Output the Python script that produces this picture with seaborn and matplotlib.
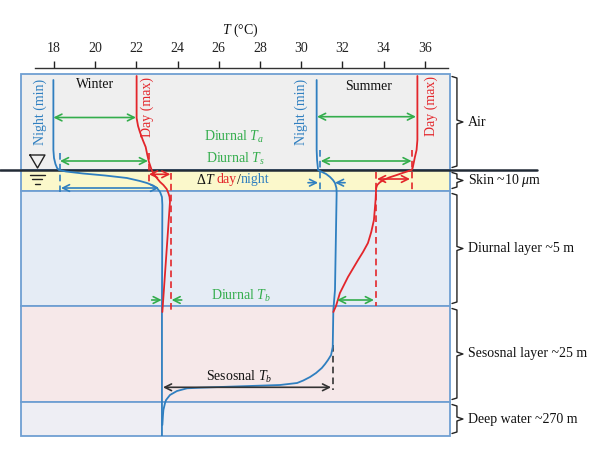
import numpy as np
import pandas as pd
import matplotlib
matplotlib.use('Agg')
import matplotlib.pyplot as plt
import seaborn as sns

# ---- data (temperature in degC, depth in drawing units, 0 = top of air box) ----
temp_ticks = [18, 20, 22, 24, 26, 28, 30, 32, 34, 36]

layer_names = ['Air', 'Skin ~10 $\\mu$m', 'Diurnal layer ~5 m',
               'Sesosnal layer ~25 m', 'Deep water ~270 m']
layer_edges = [0, 96, 117, 232, 328, 362]
layer_colors = ['#efefef', '#fbf8cb', '#e5ecf5', '#f6e8e9', '#eeeef4']

winter_night_T = [17.97, 17.97, 18.0, 18.07, 18.15, 18.24, 18.58, 19.41, 20.48, 21.54,
                  22.17, 22.51, 22.81, 23.0, 23.15, 23.24, 23.26, 23.24, 23.24]
winter_night_z = [6, 76, 84, 90, 94, 96, 97.5, 99.5, 101.5, 104,
                  107, 109, 111.5, 114, 118, 123, 131, 232, 362]

winter_day_T = [22.01, 22.01, 22.08, 22.17, 22.31, 22.45, 22.53, 22.61, 22.74, 22.85,
                22.99, 23.15, 23.31, 23.47, 23.55, 23.61, 23.63, 23.26]
winter_day_z = [2, 44, 52, 58, 66, 73, 81, 88, 96, 100,
                104, 108, 111, 115, 119, 123, 128, 238]

summer_night_T = [30.75, 30.75, 30.77, 30.82, 31.01, 31.21, 31.40, 31.54, 31.64, 31.71,
                  31.72, 31.64, 31.56, 31.53, 31.45, 31.30, 31.16, 31.0, 30.72, 30.43,
                  30.10, 29.80, 28.97, 27.51, 26.06, 25.09, 24.46, 23.97, 23.63, 23.44,
                  23.39, 23.31, 23.29, 23.26]
summer_night_z = [6, 76, 86, 96, 98, 100, 103, 106, 109, 114,
                  119, 216, 236, 273, 281, 286, 290, 294, 299, 303,
                  306.5, 309, 311, 312, 313, 313.7, 314.3, 317, 321, 326,
                  329, 336, 341, 351]

summer_day_T = [35.64, 35.64, 35.60, 35.52, 35.45, 35.41, 35.36, 34.99, 34.64, 34.27,
                33.99, 33.81, 33.69, 33.64, 33.63, 33.61, 33.53, 33.40, 33.24, 33.0,
                32.76, 32.27, 31.88, 31.69, 31.56]
summer_day_z = [2, 66, 76, 83, 90, 94, 96, 98.5, 101, 103.5,
                106, 108.5, 111, 114, 117.7, 126, 146, 158, 169, 178,
                186, 203, 219, 232, 238]

# reference (dashed) lines: T, z_top, z_bottom, colour key
ref_T = [18.29, 22.62, 23.66, 30.91, 35.39, 33.62, 31.53]
ref_z0 = [79, 79, 99, 76, 76, 98, 271]
ref_z1 = [118, 111, 238, 118, 116, 232, 316]
ref_c = ['blue', 'red', 'red', 'blue', 'red', 'red', 'black']

# arrows: T_start, T_end, z, style, colour key
arr_T0 = [17.97, 18.29, 22.61, 18.34, 22.74, 24.20, 30.77, 30.95, 30.33, 32.13, 33.68, 31.74, 23.29]
arr_T1 = [21.98, 22.56, 23.65, 23.10, 23.23, 23.71, 35.57, 35.36, 30.82, 31.64, 35.28, 33.53, 31.45]
arr_z = [43.5, 87, 100.3, 114, 226, 226, 42.7, 87, 108.7, 108.7, 105, 226, 313.3]
arr_style = ['<->', '<->', '<->', '<->', '->', '->', '<->', '<->', '->', '->', '<->', '<->', '<->']
arr_c = ['green', 'green', 'red', 'blue', 'green', 'green', 'green', 'green',
         'blue', 'blue', 'red', 'green', 'black']

colors = {'blue': '#2f7fc0', 'red': '#e3262b', 'green': '#33ad4c', 'black': '#333333'}

# ---- style ----
sns.set_theme(style='white')
plt.rcParams['font.family'] = ['Liberation Serif', 'DejaVu Serif']
plt.rcParams['mathtext.fontset'] = 'custom'
plt.rcParams['mathtext.rm'] = 'Liberation Serif'
plt.rcParams['mathtext.it'] = 'Liberation Serif:italic'
fs = 10

fig = plt.figure(figsize=(6, 4.57), dpi=100)
ax = fig.add_axes([21 / 600, 1 - 436 / 457, 429 / 600, 362 / 457])
ax.set_xlim(16.398, 37.223)
ax.set_ylim(362, 0)

# layers
for i, name in enumerate(layer_names):
    top, bot = layer_edges[i], layer_edges[i + 1]
    ax.axhspan(top, bot, facecolor=layer_colors[i], edgecolor='#6f9fd2', lw=1.3,
               clip_on=False, zorder=0)
    # right brace
    b0, b1 = top + 2.5, bot - 2.5
    mid = (b0 + b1) / 2
    ax.plot([37.32, 37.56, 37.56, 37.85, 37.56, 37.56, 37.32],
            [b0, b0 + 1.5, mid - 2, mid, mid + 2, b1 - 1.5, b1],
            color='#222222', lw=1.0, clip_on=False)
    ax.text(38.08, mid, name, ha='left', va='center', fontsize=fs, color='#111111',
            clip_on=False)

# sea surface line
ax.plot([15.38, 41.45], [layer_edges[1], layer_edges[1]], color='#222b36', lw=1.8,
        clip_on=False, zorder=3)

# water symbol
ax.plot([16.83, 17.56, 17.20, 16.83], [81, 81, 94, 81], color='#222222', lw=1.0,
        clip_on=False)
for x0, x1, z in [(16.83, 17.56, 101), (16.95, 17.44, 105.3), (17.10, 17.30, 110)]:
    ax.plot([x0, x1], [z, z], color='#222222', lw=1.0)

# profiles
profiles = [(winter_night_T, winter_night_z, 'blue'),
            (winter_day_T, winter_day_z, 'red'),
            (summer_night_T, summer_night_z, 'blue'),
            (summer_day_T, summer_day_z, 'red')]
for T, z, c in profiles:
    sns.lineplot(x=T, y=z, sort=False, estimator=None, color=colors[c], lw=1.3, ax=ax,
                 zorder=4)

# reference dashed lines
for T, z0, z1, c in zip(ref_T, ref_z0, ref_z1, ref_c):
    ax.plot([T, T], [z0, z1], color=colors[c], lw=1.2, ls=(0, (4, 2.5)), zorder=3)

# arrows
for T0, T1, z, st, c in zip(arr_T0, arr_T1, arr_z, arr_style, arr_c):
    ax.annotate('', xy=(T1, z), xytext=(T0, z),
                arrowprops=dict(arrowstyle=st, color=colors[c], lw=1.2,
                                shrinkA=0, shrinkB=0, mutation_scale=12), zorder=5)

# labels
ax.text(19.99, 11, 'Winter', ha='center', va='center', fontsize=fs, color='#111111')
ax.text(33.29, 13, 'Summer', ha='center', va='center', fontsize=fs, color='#111111')
for x, z, txt, c in [(17.32, 38, 'Night (min)', 'blue'), (22.51, 33, 'Day (max)', 'red'),
                     (30.0, 38, 'Night (min)', 'blue'), (36.33, 32, 'Day (max)', 'red')]:
    ax.text(x, z, txt, rotation=90, ha='center', va='center', fontsize=fs, color=colors[c])

ax.text(26.74, 63, 'Diurnal $T_a$', ha='center', va='center', fontsize=fs, color=colors['green'])
ax.text(26.79, 85, 'Diurnal $T_s$', ha='center', va='center', fontsize=fs, color=colors['green'])
ax.text(27.08, 222, 'Diurnal $T_b$', ha='center', va='center', fontsize=fs, color=colors['green'])
ax.text(26.98, 303, 'Sesosnal $T_b$', ha='center', va='center', fontsize=fs, color='#111111')

t = ax.text(24.93, 106, '\u0394', ha='left', va='center', fontsize=fs, color='#111111')
for s, c, st in [('T ', '#111111', 'italic'), ('day', colors['red'], 'normal'),
                 ('/', '#111111', 'normal'), ('night', colors['blue'], 'normal')]:
    t = ax.annotate(s, xy=(1, 0), xycoords=t, ha='left', va='bottom', fontsize=fs,
                    color=c, fontstyle=st)

# top temperature axis
for side in ['left', 'right', 'bottom']:
    ax.spines[side].set_visible(False)
ax.spines['top'].set_position(('outward', 4.5))
ax.spines['top'].set_bounds(17.08, 37.11)
ax.spines['top'].set_color('#333333')
ax.spines['top'].set_linewidth(1.0)
ax.xaxis.tick_top()
ax.set_xticks(temp_ticks)
ax.set_yticks([])
ax.tick_params(axis='x', direction='out', length=5, width=1, pad=4.5, labelsize=fs,
               colors='#222222', top=True, bottom=False)
ax.set_xlabel('')
ax.set_ylabel('')
ax.text(27.03, -44, '$T$ (\u00b0C)', ha='center', va='center', fontsize=fs,
        color='#111111', clip_on=False)

fig.savefig('out.png', dpi=100)
